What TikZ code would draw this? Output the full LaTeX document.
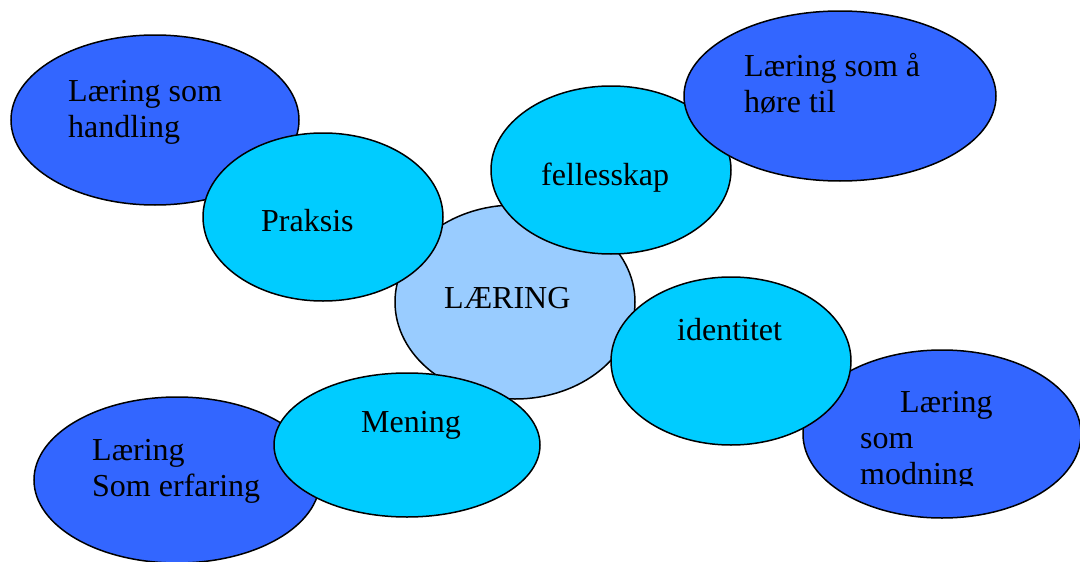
\documentclass[tikz,border=0pt]{standalone}
\usepackage{fontspec}
\setmainfont{Liberation Serif}
\definecolor{darkb}{HTML}{3366FF}
\definecolor{cyanb}{HTML}{00CCFF}
\definecolor{lightb}{HTML}{99CCFF}
\tikzset{
  ell/.style={draw=black,line width=1.5pt},
  outer/.style={ell,fill=darkb},
  inner/.style={ell,fill=cyanb},
  core/.style={ell,fill=lightb},
  lbl/.style={anchor=base west,inner sep=0pt,font=\fontsize{32}{36}\selectfont,align=left}
}
\begin{document}
\begin{tikzpicture}[x=1pt,y=-1pt]
\useasboundingbox (0,0) rectangle (1080,562);
% outer: handling
\path[outer] (155,120) ellipse [x radius=144pt, y radius=85pt];
\node[lbl] (thandling) at (68,137) {Læring som\\handling};
% core
\path[core] (515,302) ellipse [x radius=120pt, y radius=97pt];
\node[lbl] (tlaering) at (444,308) {LÆRING};
% outer: erfaring
\path[outer] (177,480) ellipse [x radius=143pt, y radius=83pt];
\node[lbl] (terfaring) at (92,496) {Læring\\Som erfaring};
% outer: modning
\path[outer] (942,434) ellipse [x radius=139pt, y radius=84pt];
\node[lbl] (tmod1) at (900,412) {Læring};
\node[lbl] (tmod2) at (860,448) {som};
\begin{scope}
\clip (800,350) rectangle (1080,485);
\node[lbl] (tmod3) at (860,484) {modning};
\end{scope}
% inner: Praksis
\path[inner] (323,217) ellipse [x radius=120pt, y radius=84pt];
\node[lbl] (tpraksis) at (261,231) {Praksis};
% inner: fellesskap
\path[inner] (611,170) ellipse [x radius=120pt, y radius=84pt];
\node[lbl] (tfelles) at (541,185) {fellesskap};
% outer: høre til
\path[outer] (840,96) ellipse [x radius=156pt, y radius=85pt];
\node[lbl] (thore) at (744,112) {Læring som å\\høre til};
% inner: identitet
\path[inner] (731,361) ellipse [x radius=120pt, y radius=84pt];
\node[lbl] (tident) at (677,340) {identitet};
% inner: Mening
\path[inner] (407,445) ellipse [x radius=133pt, y radius=72pt];
\node[lbl] (tmening) at (361,432) {Mening};
\end{tikzpicture}
\end{document}
